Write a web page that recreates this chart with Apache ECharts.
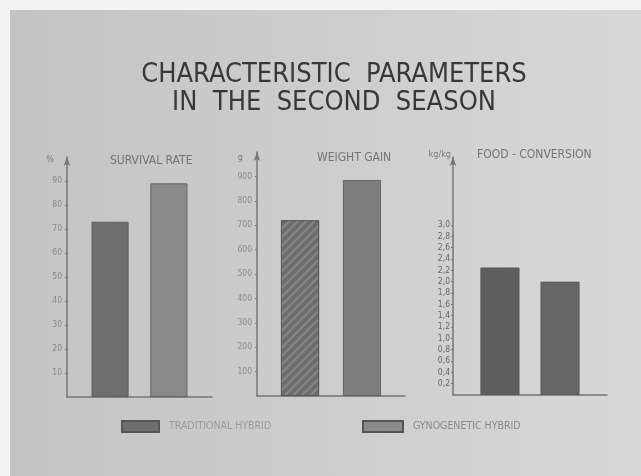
<!DOCTYPE html>
<html>
<head>
<meta charset="utf-8">
<script src="https://cdn.jsdelivr.net/npm/echarts@6/dist/echarts.min.js"></script>
<style>
  html, body { margin: 0; padding: 0; background: #f4f4f4; }
  #chart { width: 641px; height: 476px; }
</style>
</head>
<body>
<div id="chart"></div>
<script>
// data
var groups = ['SURVIVAL RATE', 'WEIGHT GAIN', 'FOOD - CONVERSION'];
var hybrids = ['TRADITIONAL HYBRID', 'GYNOGENETIC HYBRID'];
var units = ['%', 'g', 'kg/kg'];
var survival = [73, 89];
var weightGain = [720, 885];
var foodConversion = [2.25, 2.0];
var survivalTicks = [10, 20, 30, 40, 50, 60, 70, 80, 90];
var weightTicks = [100, 200, 300, 400, 500, 600, 700, 800, 900];
var foodTicks = [0.2, 0.4, 0.6, 0.8, 1.0, 1.2, 1.4, 1.6, 1.8, 2.0, 2.2, 2.4, 2.6, 2.8, 3.0];

var fontFam = '"DejaVu Sans Condensed", "DejaVu Sans", sans-serif';
var axisColor = '#767676';

var dom = document.getElementById('chart');
var myChart = echarts.init(dom, null, { renderer: 'canvas' });

// panel layout (pixels)
var panels = [
    { left: 67,  width: 145, top: 157, bottom: 79, max: 100, interval: 10,  ticks: survivalTicks, data: survival,       barWidth: 37, gap: '59%', nameGap: -3, namePad: 13, labelColor: '#8a8a8a', colors: ['#6e6e6e', '#8a8a8a'] },
    { left: 257, width: 148, top: 152, bottom: 80, max: 1000, interval: 100, ticks: weightTicks,   data: weightGain,     barWidth: 38, gap: '63%', nameGap: -6, namePad: 14, labelColor: '#8a8a8a', colors: ['#6c6c6c', '#7c7c7c'] },
    { left: 453, width: 154, top: 157, bottom: 81, max: 4.2, interval: 0.2,  ticks: foodTicks,     data: foodConversion, barWidth: 39, gap: '54%', nameGap: 2,  namePad: 2,  labelColor: '#666666', colors: ['#5e5e5e', '#666666'] }
];

var grids = [], xAxes = [], yAxes = [], series = [];
panels.forEach(function (p, i) {
    grids.push({ left: p.left, width: p.width, top: p.top, bottom: p.bottom });
    xAxes.push({
        type: 'category',
        gridIndex: i,
        data: [groups[i]],
        axisLine: { lineStyle: { color: axisColor, width: 1.5 } },
        axisTick: { show: false },
        axisLabel: { show: false }
    });
    yAxes.push({
        type: 'value',
        gridIndex: i,
        min: 0,
        max: p.max,
        interval: p.interval,
        name: units[i],
        nameLocation: 'end',
        nameGap: p.nameGap,
        nameTextStyle: {
            color: '#7a7a7a', fontFamily: fontFam, fontSize: 9,
            align: 'right', verticalAlign: 'middle', padding: [0, p.namePad, 0, 0]
        },
        splitLine: { show: false },
        axisLine: {
            show: true,
            symbol: ['none', 'arrow'],
            symbolSize: [5, 9],
            lineStyle: { color: axisColor, width: 1.5 }
        },
        axisTick: { show: true, length: 2, customValues: p.ticks, lineStyle: { color: axisColor } },
        axisLabel: {
            customValues: p.ticks,
            margin: i == 2 ? 3 : 5,
            color: p.labelColor,
            fontFamily: fontFam,
            fontSize: 8.5,
            formatter: function (v) {
                return i == 2 ? v.toFixed(1).replace('.', ',') : String(v);
            }
        }
    });
    hybrids.forEach(function (h, j) {
        var style = { color: p.colors[j], borderColor: '#555', borderWidth: 0.8 };
        if (i == 1 && j == 0) {
            style.decal = {
                symbol: 'rect', symbolSize: 1,
                dashArrayX: [1, 0], dashArrayY: [2, 4],
                rotation: -Math.PI / 4,
                color: 'rgba(255,255,255,0.18)'
            };
        }
        series.push({
            name: h,
            type: 'bar',
            xAxisIndex: i,
            yAxisIndex: i,
            barWidth: p.barWidth,
            barGap: p.gap,
            itemStyle: style,
            data: [p.data[j]]
        });
    });
});

var subTitle = function (text, left, top) {
    return {
        text: text, left: left, top: top, padding: 0,
        textStyle: { color: '#747474', fontFamily: fontFam, fontSize: 12, fontWeight: 'normal' }
    };
};

var option = {
    backgroundColor: '#f4f4f4',
    animation: false,
    graphic: [{
        type: 'rect',
        z: -10,
        shape: { x: 10, y: 10, width: 631, height: 466 },
        style: {
            fill: new echarts.graphic.LinearGradient(0, 0, 1, 0, [
                { offset: 0, color: '#c4c4c4' },
                { offset: 0.5, color: '#cdcdcd' },
                { offset: 1, color: '#d8d8d8' }
            ])
        }
    }],
    title: [
        {
            text: 'CHARACTERISTIC  PARAMETERS\nIN  THE  SECOND  SEASON',
            left: 334,
            top: 61,
            padding: 0,
            textAlign: 'center',
            textStyle: { color: '#383838', fontFamily: fontFam, fontSize: 27, fontWeight: 'normal', lineHeight: 28 }
        },
        subTitle(groups[0], 110, 155),
        subTitle(groups[1], 317, 152),
        subTitle(groups[2], 477, 149)
    ],
    legend: [
        {
            data: [hybrids[0]], left: 121, top: 420, padding: 0,
            icon: 'rect', itemWidth: 37, itemHeight: 11, itemGap: 10,
            textStyle: { color: '#9a9a9a', fontFamily: fontFam, fontSize: 10.5, padding: [0, 0, 0, 5] }
        },
        {
            data: [hybrids[1]], left: 362, top: 420, padding: 0,
            icon: 'rect', itemWidth: 40, itemHeight: 11, itemGap: 10,
            textStyle: { color: '#8a8a8a', fontFamily: fontFam, fontSize: 10.5, padding: [0, 0, 0, 5] }
        }
    ],
    grid: grids,
    xAxis: xAxes,
    yAxis: yAxes,
    series: series
};

myChart.setOption(option);
</script>
</body>
</html>
